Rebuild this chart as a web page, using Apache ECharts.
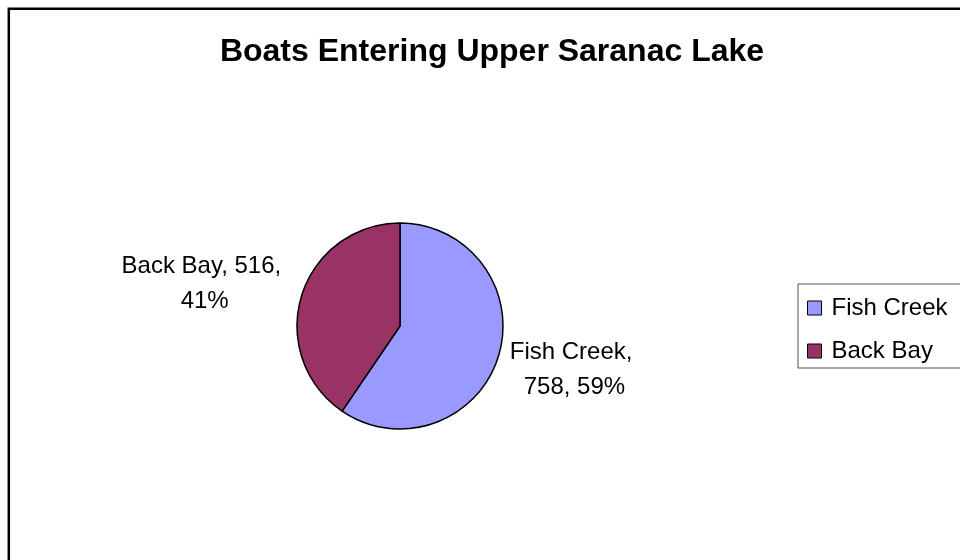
<!DOCTYPE html>
<html>
<head>
<meta charset="utf-8">
<script src="https://cdn.jsdelivr.net/npm/echarts@6/dist/echarts.min.js"></script>
<style>
html,body{margin:0;padding:0;background:#fff;}
#chart{width:960px;height:560px;}
</style>
</head>
<body>
<div id="chart"></div>
<script>
const titleText = 'Boats Entering Upper Saranac Lake';
const categories = ['Fish Creek', 'Back Bay'];
const values = [758, 516];
const colors = ['#9999FF', '#993366'];

const total = values.reduce((a, b) => a + b, 0);
const labelLen = [46, 41];
const labelLen2 = [27, 56];

const FONT = '"Liberation Sans", Arial, Helvetica, sans-serif';

const chart = echarts.init(document.getElementById('chart'), null, {renderer: 'canvas'});
chart.setOption({
  backgroundColor: '#ffffff',
  animation: false,
  graphic: [{
    type: 'rect',
    shape: {x: 8.8, y: 8.8, width: 1000, height: 700},
    style: {fill: 'none', stroke: '#000', lineWidth: 2.5},
    silent: true
  }],
  title: {
    text: titleText,
    left: 487,
    top: 31,
    textAlign: 'center',
    textStyle: {fontFamily: FONT, fontSize: 32, fontWeight: 'bold', color: '#000'}
  },
  legend: {
    orient: 'vertical',
    left: 798,
    top: 284,
    padding: [12, 20, 5, 9],
    itemGap: 19,
    itemWidth: 14,
    itemHeight: 14,
    icon: 'rect',
    borderColor: '#555',
    borderWidth: 1,
    backgroundColor: '#fff',
    data: categories,
    textStyle: {fontFamily: FONT, fontSize: 24, color: '#000', lineHeight: 24, padding: [0, 0, 0, 5]},
    itemStyle: {borderColor: '#000', borderWidth: 1}
  },
  series: [{
    type: 'pie',
    center: [400, 326],
    radius: 103,
    startAngle: 90,
    clockwise: true,
    avoidLabelOverlap: false,
    itemStyle: {borderColor: '#000', borderWidth: 1.5},
    label: {
      show: true,
      position: 'outside',
      fontFamily: FONT,
      fontSize: 24,
      lineHeight: 35,
      color: '#000',
      width: 168,
      overflow: 'break',
      align: 'center',
      formatter: p => p.name + ', ' + p.value + ', ' + Math.round(p.value / total * 100) + '%'
    },
    labelLine: {show: false},
    labelLayout: function () { return {align: 'center', verticalAlign: 'middle'}; },
    emphasis: {disabled: true},
    data: categories.map((c, i) => ({
      name: c,
      value: values[i],
      itemStyle: {color: colors[i]},
      labelLine: {show: false, length: labelLen[i], length2: labelLen2[i]}
    }))
  }]
});
</script>
</body>
</html>
